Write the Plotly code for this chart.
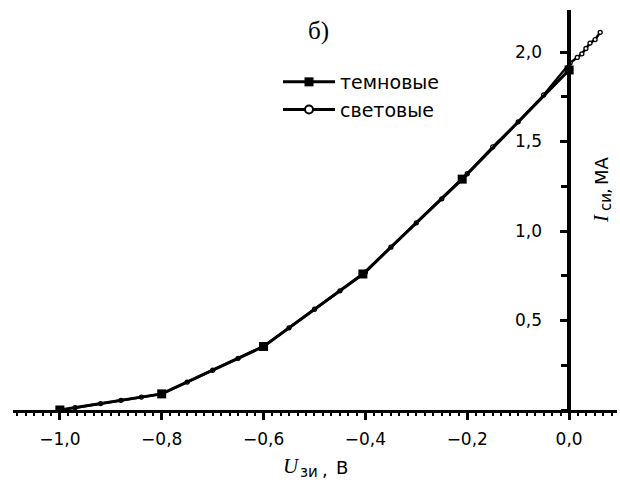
import plotly.graph_objects as go

# dark (темновые) measurements
dark_x = [-1.00, -0.80, -0.60, -0.405, -0.21, 0.00]
dark_y = [0.00, 0.09, 0.355, 0.76, 1.29, 1.90]

# light (световые) measurements
light_x = [-0.97, -0.92, -0.88, -0.84, -0.80, -0.75, -0.70, -0.65, -0.60, -0.55,
           -0.50, -0.45, -0.40, -0.35, -0.30, -0.25, -0.20, -0.15, -0.10, -0.05,
           0.002, 0.016, 0.025, 0.033, 0.041, 0.051, 0.061]
light_y = [0.013, 0.036, 0.054, 0.072, 0.09, 0.156, 0.222, 0.289, 0.355, 0.459,
           0.563, 0.666, 0.77, 0.91, 1.046, 1.18, 1.32, 1.47, 1.61, 1.76,
           1.94, 1.97, 1.99, 2.02, 2.05, 2.07, 2.11]

x_ticks = [-1.0, -0.8, -0.6, -0.4, -0.2, 0.0]
x_ticktext = ["−1,0", "−0,8", "−0,6", "−0,4", "−0,2", "0,0"]
y_ticks = [0.5, 1.0, 1.5, 2.0]
y_ticktext = ["0,5", "1,0", "1,5", "2,0"]

x_range = [-1.092, 0.094]
y_range = [0.0, 2.235]

SANS = "DejaVu Sans, Verdana, sans-serif"
SERIF = "Liberation Serif, Times New Roman, serif"

fig = go.Figure()
fig.add_trace(go.Scatter(
    x=light_x, y=light_y, mode="lines+markers", name="световые",
    line=dict(color="black", width=2.5),
    marker=dict(symbol="circle", size=4, color="white", line=dict(color="black", width=1.3)),
    showlegend=False,
))
fig.add_trace(go.Scatter(
    x=dark_x, y=dark_y, mode="lines+markers", name="темновые",
    line=dict(color="black", width=3),
    marker=dict(symbol="square", size=9, color="black"),
))
# legend entry for light series
fig.add_trace(go.Scatter(
    x=[None], y=[None], mode="lines+markers", name="световые",
    line=dict(color="black", width=3),
    marker=dict(symbol="circle", size=8, color="white", line=dict(color="black", width=2)),
))

ypos = (0 - x_range[0]) / (x_range[1] - x_range[0])

fig.update_layout(
    width=620, height=482,
    margin=dict(l=13, r=3, t=10, b=72, autoexpand=False),
    paper_bgcolor="white", plot_bgcolor="white",
    separators=", ",
    font=dict(family=SANS, size=17, color="black"),
    showlegend=True,
    legend=dict(
        x=(278 - 13) / 604, y=(410 - 63) / 400, xanchor="left", yanchor="top",
        bgcolor="rgba(0,0,0,0)", borderwidth=0,
        font=dict(size=19, family=SANS),
        itemwidth=52, tracegroupgap=0,
    ),
    xaxis=dict(
        range=x_range, showgrid=False, zeroline=False, automargin=False,
        showline=True, linecolor="black", linewidth=2.5,
        tickvals=x_ticks, ticktext=x_ticktext,
        ticks="outside", ticklen=7, tickwidth=2.5, tickcolor="black",
        ticklabelstandoff=5,
        minor=dict(dtick=0.2 / 12, tick0=0, ticks="outside", ticklen=3, tickwidth=1.5, tickcolor="black", showgrid=False),
        tickfont=dict(size=17, family=SANS),
    ),
    yaxis=dict(
        range=y_range, showgrid=False, zeroline=False, automargin=False,
        anchor="free", position=ypos, side="left",
        showline=True, linecolor="black", linewidth=3.5,
        tickvals=y_ticks, ticktext=y_ticktext,
        ticks="outside", ticklen=7, tickwidth=2.5, tickcolor="black",
        ticklabelstandoff=15,
        minor=dict(dtick=0.25, tick0=0.25, ticks="outside", ticklen=6, tickwidth=2.5, tickcolor="black", showgrid=False),
        tickfont=dict(size=17, family=SANS),
    ),
)

def px_x(p):
    return (p - 13) / 604

def px_y(p):
    return (410 - p) / 400

def label(text, x, y, family, size, italic=False, angle=0):
    fig.add_annotation(
        text=f"<i>{text}</i>" if italic else text,
        xref="paper", yref="paper", x=px_x(x), y=px_y(y),
        xanchor="center", yanchor="middle", textangle=angle,
        showarrow=False, font=dict(family=family, size=size),
    )

label("б)", 318, 31, SERIF, 25)
# x axis title: U_зи, В
label("U", 291, 466, SERIF, 21, italic=True)
label("зи", 309, 472, SANS, 15)
label(",", 325, 469, SANS, 18)
label("В", 342, 467, SANS, 18)
# y axis title: I_си, МА
label("I", 601, 219, SERIF, 21, italic=True, angle=-90)
label("си", 606, 202, SANS, 15, angle=-90)
label(",", 603, 191, SANS, 18, angle=-90)
label("МА", 601, 171, SANS, 18, angle=-90)

fig.write_html("out.html", post_script="document.body.style.margin='0';",
               config={"displayModeBar": False})
